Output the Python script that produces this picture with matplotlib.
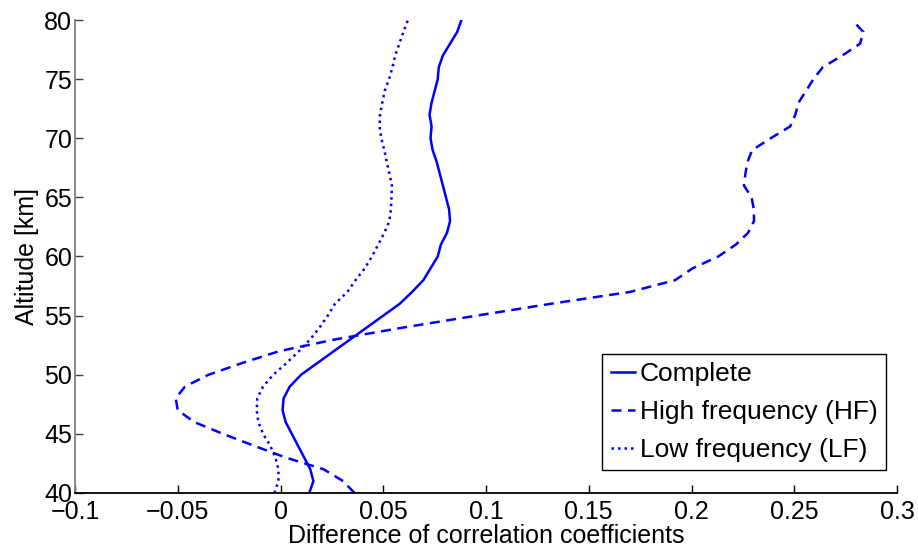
import matplotlib
matplotlib.use("Agg")
import matplotlib.pyplot as plt

altitude = list(range(40, 81))

complete = [0.014, 0.016, 0.0145, 0.0115, 0.0085, 0.0055, 0.0025, 0.001, 0.0015, 0.0045,
            0.010, 0.018, 0.026, 0.034, 0.042, 0.050, 0.058, 0.064, 0.0695, 0.073,
            0.0765, 0.078, 0.081, 0.0825, 0.082, 0.0805, 0.079, 0.0775, 0.076, 0.074,
            0.073, 0.0735, 0.0725, 0.0735, 0.075, 0.0765, 0.077, 0.079, 0.0825, 0.086,
            0.088]

high_freq = [0.036, 0.0305, 0.021, 0.0025, -0.013, -0.028, -0.042, -0.050, -0.051, -0.0465,
             -0.035, -0.0185, -0.0005, 0.027, 0.060, 0.0955, 0.1315, 0.170, 0.192, 0.2005,
             0.213, 0.2215, 0.2275, 0.2304, 0.2303, 0.2292, 0.2255, 0.2262, 0.2272, 0.2295,
             0.2385, 0.248, 0.2505, 0.252, 0.2557, 0.2593, 0.2638, 0.2734, 0.282, 0.2836,
             0.278]

low_freq = [-0.003, -0.001, -0.001, -0.0025, -0.005, -0.0085, -0.0108, -0.0116, -0.0113, -0.0085,
            -0.0035, 0.003, 0.009, 0.0145, 0.019, 0.023, 0.0265, 0.0325, 0.0365, 0.041,
            0.0445, 0.0475, 0.0505, 0.053, 0.0537, 0.054, 0.0542, 0.053, 0.0517, 0.0505,
            0.049, 0.0482, 0.0484, 0.0495, 0.0507, 0.0528, 0.0545, 0.0558, 0.0578, 0.0598,
            0.062]

labels = ["Complete", "High frequency (HF)", "Low frequency (LF)"]
xticks = [-0.1, -0.05, 0, 0.05, 0.1, 0.15, 0.2, 0.25, 0.3]
xticklabels = ["\u22120.1", "\u22120.05", "0", "0.05", "0.1", "0.15", "0.2", "0.25", "0.3"]
yticks = [40, 45, 50, 55, 60, 65, 70, 75, 80]

plt.rcParams['font.family'] = ['Liberation Sans', 'DejaVu Sans']

fig = plt.figure(figsize=(9.18, 5.48), dpi=100)
ax = fig.add_axes([0.0817, 0.1004, 0.8955, 0.8631])

blue = '#0000ff'
ax.plot(complete, altitude, color=blue, lw=1.8, linestyle='-', label=labels[0])
ax.plot(high_freq, altitude, color=blue, lw=1.8, linestyle=(0, (4.0, 2.6)), label=labels[1])
ax.plot(low_freq, altitude, color=blue, lw=1.8, linestyle=(0, (1.0, 1.6)), label=labels[2])

ax.set_xlim(-0.1, 0.3)
ax.set_ylim(40, 80)
ax.set_xticks(xticks)
ax.set_xticklabels(xticklabels)
ax.set_yticks(yticks)

for s in ['top', 'right']:
    ax.spines[s].set_visible(False)
ax.spines['left'].set_color('#808080')
ax.spines['left'].set_linewidth(1.3)
ax.spines['bottom'].set_color('black')
ax.spines['bottom'].set_linewidth(1.3)

ax.tick_params(axis='both', direction='in', length=6, width=1.0, labelsize=18)
ax.tick_params(axis='x', pad=5)
ax.tick_params(axis='y', pad=2, colors='#404040', labelcolor='black')

ax.set_xlabel("Difference of correlation coefficients", fontsize=18, labelpad=0)
ax.set_ylabel("Altitude [km]", fontsize=18, labelpad=4)

leg = ax.legend(loc='upper right', bbox_to_anchor=(0.9866, 0.2939), fontsize=19,
                handlelength=0.9, handletextpad=0.2, borderpad=0.32, labelspacing=0.52,
                borderaxespad=0, fancybox=False, framealpha=1, edgecolor='black')
leg.get_frame().set_linewidth(1.0)

fig.savefig("out.png", dpi=100)
